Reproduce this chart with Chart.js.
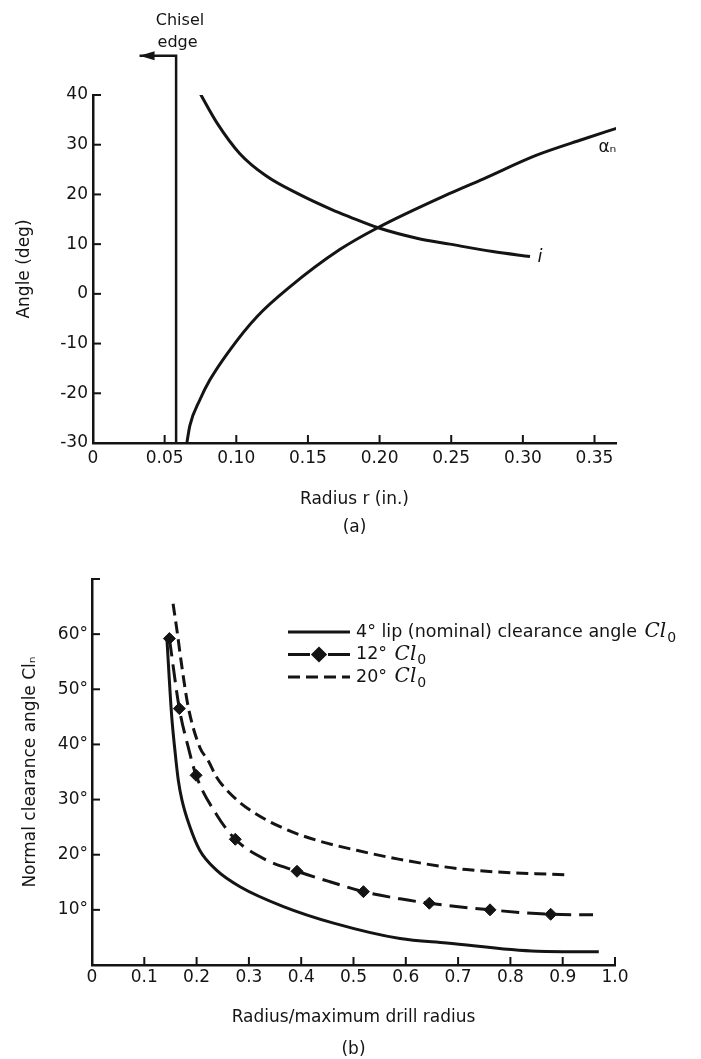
<!DOCTYPE html>
<html lang="en">
<head>
<meta charset="UTF-8">
<title>Drill point angles vs radius</title>
<script src="https://cdn.jsdelivr.net/npm/chart.js"></script>
<style>
  html, body { margin: 0; padding: 0; background: #fff; overflow: hidden; }
  #wrapA { position: absolute; left: 0; top: 0; }
  #wrapB { position: absolute; left: 0; top: 545px; }
</style>
</head>
<body>
<div id="wrapA"><canvas id="chartA" width="701" height="545"></canvas></div>
<div id="wrapB"><canvas id="chartB" width="701" height="530"></canvas></div>

<script>
// ---- (a) angle vs radius ----
const radiusTicksA = [0, 0.05, 0.10, 0.15, 0.20, 0.25, 0.30, 0.35];
const radiusLabelsA = ['0', '0.05', '0.10', '0.15', '0.20', '0.25', '0.30', '0.35'];
const angleTicksA = [-30, -20, -10, 0, 10, 20, 30, 40];
const angleLabelsA = ['-30', '-20', '-10', '0', '10', '20', '30', '40'];

// chisel edge marker line (goes up past the axis, then arrow to the left)
const chiselR = [0.058, 0.058, 0.0325];
const chiselA = [-30, 47.9, 47.9];

// inclination angle i
const inclR = [0.074, 0.0865, 0.1025, 0.121, 0.144, 0.167, 0.179, 0.199, 0.226, 0.249, 0.279, 0.305];
const inclA = [40.7, 34.4, 28.2, 23.7, 20.0, 16.9, 15.5, 13.3, 11.2, 10.0, 8.5, 7.5];

// normal rake angle alpha_n
const rakeR = [0.0655, 0.0676, 0.0746, 0.0816, 0.0955, 0.1144, 0.1374, 0.1722, 0.1987, 0.249, 0.2722, 0.3096, 0.342, 0.3654];
const rakeA = [-30, -26.5, -21.3, -17.3, -11.3, -4.6, 1.4, 8.9, 13.3, 20.2, 23.1, 27.9, 31.1, 33.3];

// ---- (b) normal clearance angle vs radius ratio ----
const ratioTicksB = [0, 0.1, 0.2, 0.3, 0.4, 0.5, 0.6, 0.7, 0.8, 0.9, 1.0];
const ratioLabelsB = ['0', '0.1', '0.2', '0.3', '0.4', '0.5', '0.6', '0.7', '0.8', '0.9', '1.0'];
const angleTicksB = [0, 10, 20, 30, 40, 50, 60, 70];
const angleLabelsB = ['', '10°', '20°', '30°', '40°', '50°', '60°', ''];

const lip4R = [0.143, 0.152, 0.159, 0.165, 0.172, 0.187, 0.206, 0.238, 0.283, 0.366, 0.462, 0.589, 0.678, 0.851, 0.969];
const lip4A = [59.5, 45.6, 38.5, 33.5, 29.9, 25.1, 20.8, 17.2, 14.2, 10.6, 7.6, 4.8, 4.0, 2.5, 2.4];

const lip12R = [0.148, 0.167, 0.184, 0.199, 0.238, 0.274, 0.334, 0.392, 0.455, 0.519, 0.589, 0.645, 0.761, 0.877, 0.958];
const lip12A = [59.2, 46.5, 39.5, 34.4, 27.3, 22.8, 19.0, 17.0, 15.1, 13.3, 12.0, 11.2, 10.0, 9.2, 9.1];
const mark12R = [0.148, 0.167, 0.199, 0.274, 0.392, 0.519, 0.645, 0.761, 0.877];
const mark12A = [59.2, 46.5, 34.4, 22.8, 17.0, 13.3, 11.2, 10.0, 9.2];

const lip20R = [0.155, 0.162, 0.172, 0.184, 0.206, 0.222, 0.238, 0.264, 0.302, 0.366, 0.430, 0.506, 0.586, 0.716, 0.914];
const lip20A = [65.5, 61.0, 54.0, 46.8, 39.5, 37.1, 34.1, 31.1, 28.1, 24.8, 22.6, 20.8, 19.2, 17.3, 16.3];

const ink = '#141414';
const fontFam = '"DejaVu Sans", sans-serif';

function pts(xs, ys) {
    return xs.map((x, i) => ({ x: x, y: ys[i] }));
}

// small ticks drawn on the inside of both axes
const inwardTicks = {
    id: 'inwardTicks',
    afterDraw(chart, args, opts) {
        const { ctx, chartArea } = chart;
        const xs = chart.scales.x, ys = chart.scales.y;
        ctx.save();
        ctx.strokeStyle = ink;
        ctx.lineWidth = 2;
        xs.ticks.forEach(t => {
            if (t.value === xs.min) return;
            const px = xs.getPixelForValue(t.value);
            ctx.beginPath();
            ctx.moveTo(px, chartArea.bottom);
            ctx.lineTo(px, chartArea.bottom - opts.len);
            ctx.stroke();
        });
        ys.ticks.forEach(t => {
            if (t.value === ys.min) return;
            const py = ys.getPixelForValue(t.value);
            ctx.beginPath();
            ctx.moveTo(chartArea.left, py);
            ctx.lineTo(chartArea.left + opts.len, py);
            ctx.stroke();
        });
        ctx.restore();
    }
};

// text notes placed at data positions
const notes = {
    id: 'notes',
    afterDatasetsDraw(chart, args, opts) {
        const { ctx } = chart;
        const xs = chart.scales.x, ys = chart.scales.y;
        ctx.save();
        ctx.fillStyle = ink;
        ctx.textAlign = 'center';
        ctx.textBaseline = 'middle';
        (opts.items || []).forEach(n => {
            ctx.font = n.font;
            ctx.fillText(n.text, xs.getPixelForValue(n.r), ys.getPixelForValue(n.a));
        });
        ctx.restore();
    }
};

// arrow head on the end of a dataset's line (points outside the area are not drawn by chart.js)
const arrowHead = {
    id: 'arrowHead',
    afterDatasetsDraw(chart, args, opts) {
        const meta = chart.getDatasetMeta(opts.dataset);
        const end = meta.data[meta.data.length - 1];
        const { ctx } = chart;
        ctx.save();
        ctx.fillStyle = ink;
        ctx.beginPath();
        ctx.moveTo(end.x, end.y);
        ctx.lineTo(end.x + 15, end.y - 4.5);
        ctx.lineTo(end.x + 15, end.y + 4.5);
        ctx.closePath();
        ctx.fill();
        ctx.restore();
    }
};

// draws "Cl" in italic with a subscript
function drawSymbol(ctx, x, y, sub) {
    ctx.font = 'italic 20px "DejaVu Serif", serif';
    ctx.textAlign = 'left';
    ctx.fillText('Cl', x, y);
    const w = ctx.measureText('Cl').width;
    ctx.font = '14px ' + fontFam;
    ctx.fillText(sub, x + w + 1, y + 6);
}

// hand drawn key for chart (b)
const lineKey = {
    id: 'lineKey',
    afterDraw(chart, args, opts) {
        const { ctx, chartArea } = chart;
        const sets = chart.data.datasets;
        const marker = sets[opts.markerSet];
        const x0 = chartArea.left + opts.dx;
        ctx.save();
        opts.rows.forEach((idx, k) => {
            const ds = sets[idx];
            const y = chartArea.top + opts.dy + k * opts.gap;
            ctx.strokeStyle = ds.borderColor;
            ctx.lineWidth = ds.borderWidth;
            ctx.setLineDash(ds.borderDash || []);
            ctx.beginPath();
            if (idx === opts.markerRow) {
                ctx.setLineDash([]);
                ctx.moveTo(x0, y); ctx.lineTo(x0 + 22, y);
                ctx.moveTo(x0 + 40, y); ctx.lineTo(x0 + opts.len, y);
                ctx.stroke();
                Chart.helpers.drawPoint(ctx, {
                    pointStyle: marker.pointStyle, radius: marker.pointRadius,
                    rotation: 0, borderWidth: 1
                }, x0 + 31, y);
                ctx.fillStyle = ink;
                ctx.fill();
            } else {
                ctx.moveTo(x0, y); ctx.lineTo(x0 + opts.len, y);
                ctx.stroke();
            }
            ctx.setLineDash([]);
            ctx.fillStyle = ink;
            ctx.textBaseline = 'middle';
            ctx.textAlign = 'left';
            const label = ds.label;
            const cut = label.indexOf('Cl₀');
            const head = cut >= 0 ? label.slice(0, cut) : label;
            ctx.font = '17.5px ' + fontFam;
            const tx = x0 + opts.len + 6;
            ctx.fillText(head, tx, y);
            if (cut >= 0) {
                drawSymbol(ctx, tx + ctx.measureText(head).width + 2, y, '0');
            }
        });
        ctx.restore();
    }
};

const tickFont = { family: fontFam, size: 17 };
const titleFont = { family: fontFam, size: 17 };

// ---------- chart (a) ----------
new Chart(document.getElementById('chartA'), {
    type: 'scatter',
    data: {
        datasets: [
            {
                label: 'Chisel edge',
                data: pts(chiselR, chiselA),
                showLine: true,
                borderColor: ink,
                borderWidth: 2.5,
                pointRadius: 0,
                clip: false
            },
            {
                label: 'i',
                data: pts(inclR, inclA),
                showLine: true,
                borderColor: ink,
                borderWidth: 3,
                pointRadius: 0,
                cubicInterpolationMode: 'monotone'
            },
            {
                label: 'αn',
                data: pts(rakeR, rakeA),
                showLine: true,
                borderColor: ink,
                borderWidth: 3,
                pointRadius: 0,
                cubicInterpolationMode: 'monotone'
            }
        ]
    },
    options: {
        responsive: false,
        devicePixelRatio: 1,
        animation: false,
        layout: { padding: { left: 0, right: 85, top: 95, bottom: 0 } },
        scales: {
            x: {
                type: 'linear',
                min: 0,
                max: 0.365,
                afterBuildTicks: s => { s.ticks = radiusTicksA.map(v => ({ value: v })); },
                afterFit: s => { s.height = 102; },
                grid: { display: false, drawTicks: false },
                border: { display: true, color: ink, width: 2.5 },
                ticks: {
                    color: ink, font: tickFont, padding: 5, maxRotation: 0,
                    callback: (v, i) => radiusLabelsA[i]
                },
                title: {
                    display: true,
                    text: ['Radius r (in.)', '(a)'],
                    color: ink,
                    font: { family: fontFam, size: 17, lineHeight: 1.65 },
                    padding: { top: 0, bottom: 3 }
                }
            },
            y: {
                type: 'linear',
                min: -30,
                max: 40,
                afterBuildTicks: s => { s.ticks = angleTicksA.map(v => ({ value: v })); },
                afterFit: s => { s.width = 93; },
                grid: { display: false, drawTicks: false },
                border: { display: true, color: ink, width: 2.5 },
                ticks: {
                    color: ink, font: tickFont, padding: 5,
                    callback: (v, i) => angleLabelsA[i]
                },
                title: {
                    display: true,
                    text: 'Angle (deg)',
                    color: ink,
                    font: titleFont,
                    padding: { top: 14, bottom: 0 }
                }
            }
        },
        plugins: {
            legend: { display: false },
            tooltip: { enabled: false },
            inwardTicks: { len: 8 },
            arrowHead: { dataset: 0 },
            notes: {
                items: [
                    { text: 'Chisel', r: 0.0607, a: 54.9, font: '16px ' + fontFam },
                    { text: 'edge', r: 0.059, a: 50.5, font: '16px ' + fontFam },
                    { text: 'αₙ', r: 0.359, a: 29.4, font: '17px ' + fontFam },
                    { text: 'i', r: 0.312, a: 7.4, font: 'italic 18px ' + fontFam }
                ]
            }
        }
    },
    plugins: [inwardTicks, notes, arrowHead]
});

// ---------- chart (b) ----------
new Chart(document.getElementById('chartB'), {
    type: 'scatter',
    data: {
        datasets: [
            {
                label: '4° lip (nominal) clearance angle Cl₀',
                data: pts(lip4R, lip4A),
                showLine: true,
                borderColor: ink,
                borderWidth: 3,
                pointRadius: 0,
                cubicInterpolationMode: 'monotone'
            },
            {
                label: '12° Cl₀',
                data: pts(lip12R, lip12A),
                showLine: true,
                borderColor: ink,
                borderWidth: 3,
                borderDash: [18, 8],
                pointRadius: 0,
                cubicInterpolationMode: 'monotone'
            },
            {
                label: '20° Cl₀',
                data: pts(lip20R, lip20A),
                showLine: true,
                borderColor: ink,
                borderWidth: 3,
                borderDash: [12, 6],
                pointRadius: 0,
                cubicInterpolationMode: 'monotone'
            },
            {
                label: '12° points',
                data: pts(mark12R, mark12A),
                showLine: false,
                pointStyle: 'rectRot',
                pointRadius: 6,
                pointBackgroundColor: ink,
                pointBorderColor: ink
            }
        ]
    },
    options: {
        responsive: false,
        devicePixelRatio: 1,
        animation: false,
        layout: { padding: { left: 0, right: 86, top: 34, bottom: 0 } },
        scales: {
            x: {
                type: 'linear',
                min: 0,
                max: 1.0,
                afterBuildTicks: s => { s.ticks = ratioTicksB.map(v => ({ value: v })); },
                afterFit: s => { s.height = 110; },
                grid: { display: false, drawTicks: false },
                border: { display: true, color: ink, width: 2.5 },
                ticks: {
                    color: ink, font: tickFont, padding: 2, maxRotation: 0,
                    callback: (v, i) => ratioLabelsB[i]
                },
                title: {
                    display: true,
                    text: ['Radius/maximum drill radius', '(b)'],
                    color: ink,
                    font: { family: fontFam, size: 17, lineHeight: 1.88 },
                    padding: { top: 0, bottom: 9 }
                }
            },
            y: {
                type: 'linear',
                min: 0,
                max: 70,
                afterBuildTicks: s => { s.ticks = angleTicksB.map(v => ({ value: v })); },
                afterFit: s => { s.width = 92; },
                grid: { display: false, drawTicks: false },
                border: { display: true, color: ink, width: 2.5 },
                ticks: {
                    color: ink, font: tickFont, padding: 4,
                    callback: (v, i) => angleLabelsB[i]
                },
                title: {
                    display: true,
                    text: 'Normal clearance angle Clₙ',
                    color: ink,
                    font: titleFont,
                    padding: { top: 20, bottom: 0 }
                }
            }
        },
        plugins: {
            legend: { display: false },
            tooltip: { enabled: false },
            inwardTicks: { len: 8 },
            lineKey: { rows: [0, 1, 2], markerRow: 1, markerSet: 3, dx: 196, dy: 53, gap: 22.5, len: 62 }
        }
    },
    plugins: [inwardTicks, lineKey]
});
</script>
</body>
</html>
